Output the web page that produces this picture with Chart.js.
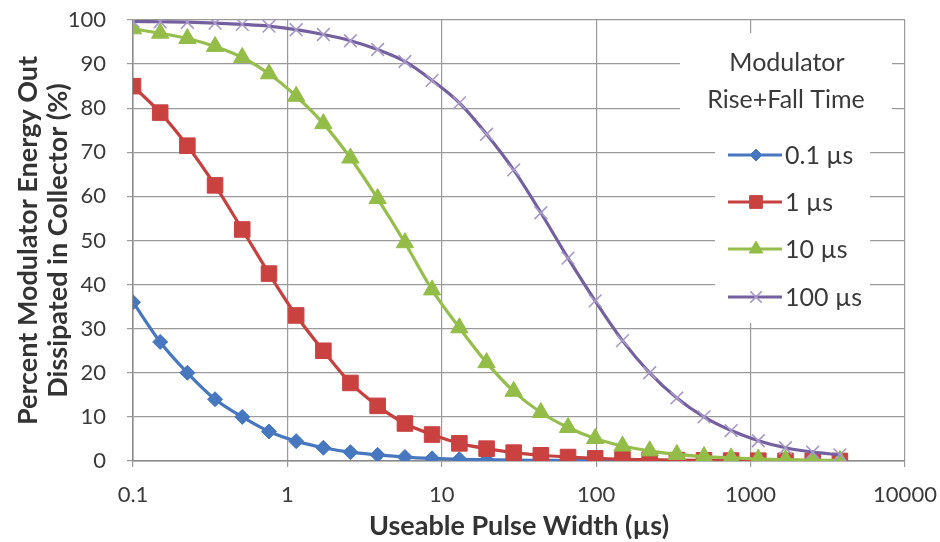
<!DOCTYPE html>
<html>
<head>
<meta charset="utf-8">
<script src="https://cdn.jsdelivr.net/npm/chart.js@4.4.1/dist/chart.umd.min.js"></script>
<style>
  html, body { margin: 0; padding: 0; background: #ffffff; }
  #wrap { width: 940px; height: 542px; position: relative; }
</style>
</head>
<body>
<div id="wrap"><canvas id="c" width="940" height="542"></canvas></div>
<script>
// ---- data ----
const pulseWidths = [0.1, 0.15, 0.225, 0.34, 0.51, 0.76, 1.14, 1.71, 2.56, 3.84, 5.77, 8.65, 13, 19.5, 29.2, 43.8, 65.7, 98.5, 148, 222, 333, 499, 748, 1122, 1683, 2525, 3788];
const seriesLabels = ['0.1 \u00b5s', '1 \u00b5s', '10 \u00b5s', '100 \u00b5s'];
const rise01 = [36, 27, 20, 14, 10, 6.7, 4.5, 3, 2, 1.4, 0.9, 0.6, 0.4, 0.3, 0.2, 0.15, 0.1, 0.07, 0.05, 0.03, 0.02, 0.02, 0.01, 0.01, 0.01, 0.01, 0.01];
const rise1 = [85, 79, 71.5, 62.5, 52.5, 42.5, 33, 25, 17.7, 12.5, 8.5, 6, 4, 2.8, 1.9, 1.3, 0.9, 0.6, 0.4, 0.3, 0.2, 0.15, 0.1, 0.07, 0.05, 0.03, 0.02];
const rise10 = [98, 97, 95.8, 94, 91.5, 87.8, 82.7, 76.5, 68.7, 59.5, 49.5, 38.8, 30.2, 22.3, 15.8, 11, 7.6, 5.1, 3.4, 2.3, 1.5, 1, 0.7, 0.45, 0.3, 0.2, 0.13];
const rise100 = [99.7, 99.6, 99.5, 99.3, 99, 98.6, 97.8, 96.7, 95.3, 93.3, 90.6, 86.3, 81.2, 74.1, 66, 56.3, 46, 36.3, 27.3, 20, 14.3, 10, 6.9, 4.6, 3, 2, 1.4];
const xTickValues = [0.1, 1, 10, 100, 1000, 10000];
const yTickValues = [0, 10, 20, 30, 40, 50, 60, 70, 80, 90, 100];
const xTitle = 'Useable Pulse Width (\u00b5s)';
const yTitle = ['Percent Modulator Energy Out', 'Dissipated in Collector (%)'];
const legendTitle = ['Modulator', 'Rise+Fall Time'];

// ---- styles ----
const FONT = "Lato, 'Open Sans', 'Liberation Sans', sans-serif";
const TEXT = '#3a3a3a';
const GRID = '#9a9a9a';
const styles = [
  { line: '#4677bf', fill: '#4677bf', marker: 'rectRot', r: 7.5, lr: 6, bw: 1 },
  { line: '#c4413f', fill: '#c94240', marker: 'rect', r: 11, lr: 9, bw: 1 },
  { line: '#96be4c', fill: '#93bd48', marker: 'triangle', r: 10, lr: 8, bw: 1 },
  { line: '#74609f', fill: '#a899c9', marker: 'crossRot', r: 9, lr: 8, bw: 1.6 }
];
const seriesValues = [rise01, rise1, rise10, rise100];

const datasets = seriesValues.map((vals, i) => ({
  label: seriesLabels[i],
  data: pulseWidths.map((w, k) => ({ x: w, y: vals[k] })),
  borderColor: styles[i].line,
  backgroundColor: styles[i].fill,
  pointBackgroundColor: styles[i].fill,
  pointBorderColor: styles[i].fill,
  pointBorderWidth: styles[i].bw,
  pointStyle: styles[i].marker,
  pointRadius: styles[i].r,
  pointHoverRadius: styles[i].r,
  borderWidth: 3.2,
  cubicInterpolationMode: 'monotone',
  order: 3 - i
}));

const legendPlugin = {
  id: 'boxLegend',
  afterDatasetsDraw(chart) {
    const ctx = chart.ctx;
    ctx.save();
    ctx.fillStyle = '#ffffff';
    ctx.fillRect(680, 33, 212, 96);
    ctx.fillRect(715, 128, 155, 195);
    ctx.fillStyle = TEXT;
    ctx.textAlign = 'center';
    ctx.textBaseline = 'middle';
    ctx.font = '25px ' + FONT;
    ctx.fillText(legendTitle[0], 787, 63);
    ctx.fillText(legendTitle[1], 786, 100);
    const ys = [155, 202, 249, 297];
    chart.data.datasets.forEach((ds, i) => {
      const y = ys[i];
      ctx.strokeStyle = styles[i].line;
      ctx.lineWidth = 3.2;
      ctx.beginPath();
      ctx.moveTo(728, y);
      ctx.lineTo(782, y);
      ctx.stroke();
      ctx.fillStyle = styles[i].fill;
      ctx.strokeStyle = styles[i].fill;
      ctx.lineWidth = styles[i].bw;
      Chart.helpers.drawPoint(ctx, { pointStyle: styles[i].marker, radius: styles[i].lr, rotation: 0, borderWidth: styles[i].bw }, 756, y);
      ctx.fillStyle = TEXT;
      ctx.textAlign = 'left';
      ctx.font = '25px ' + FONT;
      ctx.fillText(ds.label, 785, y + 1);
    });
    ctx.restore();
  }
};

new Chart(document.getElementById('c'), {
  type: 'line',
  data: { datasets },
  plugins: [legendPlugin],
  options: {
    responsive: false,
    animation: false,
    events: [],
    layout: { padding: { top: 20, right: 35, left: 0, bottom: 0 } },
    plugins: { legend: { display: false }, tooltip: { enabled: false } },
    scales: {
      x: {
        type: 'logarithmic',
        min: 0.1,
        max: 10000,
        afterFit(scale) { scale.height = 81; scale.paddingLeft = 0; scale.paddingRight = 0; },
        afterBuildTicks(scale) { scale.ticks = xTickValues.map(v => ({ value: v })); },
        ticks: {
          color: TEXT,
          font: { family: FONT, size: 22 },
          padding: 15,
          maxRotation: 0,
          autoSkip: false,
          callback: (v) => String(v)
        },
        grid: { color: GRID, lineWidth: 1.2, tickLength: 6, drawTicks: true },
        border: { color: '#8a8a8a', width: 1.5 },
        title: {
          display: true,
          text: xTitle,
          color: '#333333',
          font: { family: FONT, size: 27, weight: 'bold', lineHeight: 1.2 },
          padding: { top: 0, bottom: 0 }
        }
      },
      y: {
        type: 'linear',
        min: 0,
        max: 100,
        afterFit(scale) { scale.width = 133; scale.paddingTop = 0; scale.paddingBottom = 0; },
        afterBuildTicks(scale) { scale.ticks = yTickValues.map(v => ({ value: v })); },
        ticks: {
          color: TEXT,
          font: { family: FONT, size: 22 },
          padding: 21
        },
        grid: { color: GRID, lineWidth: 1.2, tickLength: 6 },
        border: { color: '#8a8a8a', width: 1.5 },
        title: {
          display: true,
          text: yTitle,
          color: '#333333',
          font: { family: FONT, size: 27, weight: 'bold', lineHeight: 1.11 },
          padding: { top: 13, bottom: 0 }
        }
      }
    }
  }
});
</script>
</body>
</html>
